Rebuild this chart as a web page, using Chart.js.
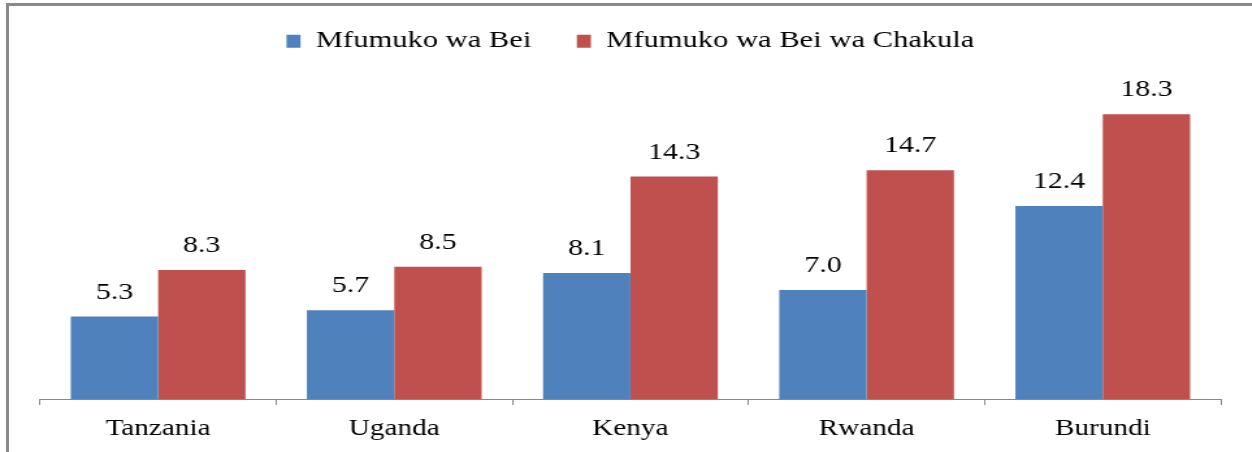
<!DOCTYPE html>
<html lang="sw">
  <head>
    <meta charset="UTF-8" />
    <title>Mfumuko wa Bei - Afrika Mashariki</title>
    <style>
      html,
      body {
        margin: 0;
        background: #ffffff;
        width: 1252px;
        height: 452px;
        overflow: hidden;
      }
      #fremu {
        position: absolute;
        left: 6px;
        top: 3px;
        right: 0;
        bottom: 0;
        border-left: 3px solid #8a8a8a;
        border-top: 3px solid #8a8a8a;
      }
      /* picha ya asili imevutwa kwa upana, kwa hiyo tunavuta pia */
      #chati {
        position: absolute;
        left: 0;
        top: 0;
        width: 963px;
        height: 452px;
        transform: scaleX(1.3);
        transform-origin: 0 0;
      }
    </style>
  </head>
  <body>
    <div id="fremu"></div>
    <div id="chati">
      <canvas id="myChart"></canvas>
    </div>

    <script src="https://cdn.jsdelivr.net/npm/chart.js"></script>

    <script>
      const nchi = ["Tanzania", "Uganda", "Kenya", "Rwanda", "Burundi"];
      const mfumukoBei = [5.3, 5.7, 8.1, 7.0, 12.4];
      const mfumukoChakula = [8.3, 8.5, 14.3, 14.7, 18.3];

      const fonti = "'Liberation Serif', 'Times New Roman', serif";

      // lebo za thamani juu ya kila nguzo
      const lebozaThamani = {
        id: "lebozaThamani",
        afterDatasetsDraw(chart) {
          const ctx = chart.ctx;
          ctx.save();
          ctx.font = "23px " + fonti;
          ctx.fillStyle = "#000000";
          ctx.textAlign = "center";
          ctx.textBaseline = "alphabetic";
          chart.data.datasets.forEach((ds, i) => {
            const meta = chart.getDatasetMeta(i);
            meta.data.forEach((bar, j) => {
              ctx.fillText(ds.data[j].toFixed(1), bar.x, bar.y - 18);
            });
          });
          ctx.restore();
        },
      };

      const ctx = document.getElementById("myChart").getContext("2d");
      const myChart = new Chart(ctx, {
        type: "bar",
        data: {
          labels: nchi,
          datasets: [
            {
              label: "Mfumuko wa Bei",
              data: mfumukoBei,
              backgroundColor: "#4F81BD",
            },
            {
              label: "Mfumuko wa Bei wa Chakula",
              data: mfumukoChakula,
              backgroundColor: "#C0504D",
            },
          ],
        },
        options: {
          responsive: true,
          maintainAspectRatio: false,
          animation: false,
          devicePixelRatio: 1,
          layout: {
            padding: { top: -5.5, left: 30.8, right: 23.9, bottom: -2 },
          },
          datasets: {
            bar: {
              categoryPercentage: 0.74,
              barPercentage: 1.0,
            },
          },
          plugins: {
            tooltip: { enabled: false },
            legend: {
              position: "top",
              labels: {
                color: "#000000",
                font: { family: fonti, size: 23.5 },
                boxWidth: 10.8,
                boxHeight: 13,
                padding: 35,
              },
            },
          },
          scales: {
            x: {
              grid: {
                display: true,
                drawOnChartArea: false,
                drawTicks: true,
                tickLength: 6,
                color: "#888888",
              },
              border: { display: true, color: "#888888", width: 1 },
              ticks: {
                color: "#000000",
                padding: 11,
                font: { family: fonti, size: 22.5 },
              },
            },
            y: {
              display: false,
              min: 0,
              max: 21.6,
            },
          },
        },
        plugins: [lebozaThamani],
      });
    </script>
  </body>
</html>
